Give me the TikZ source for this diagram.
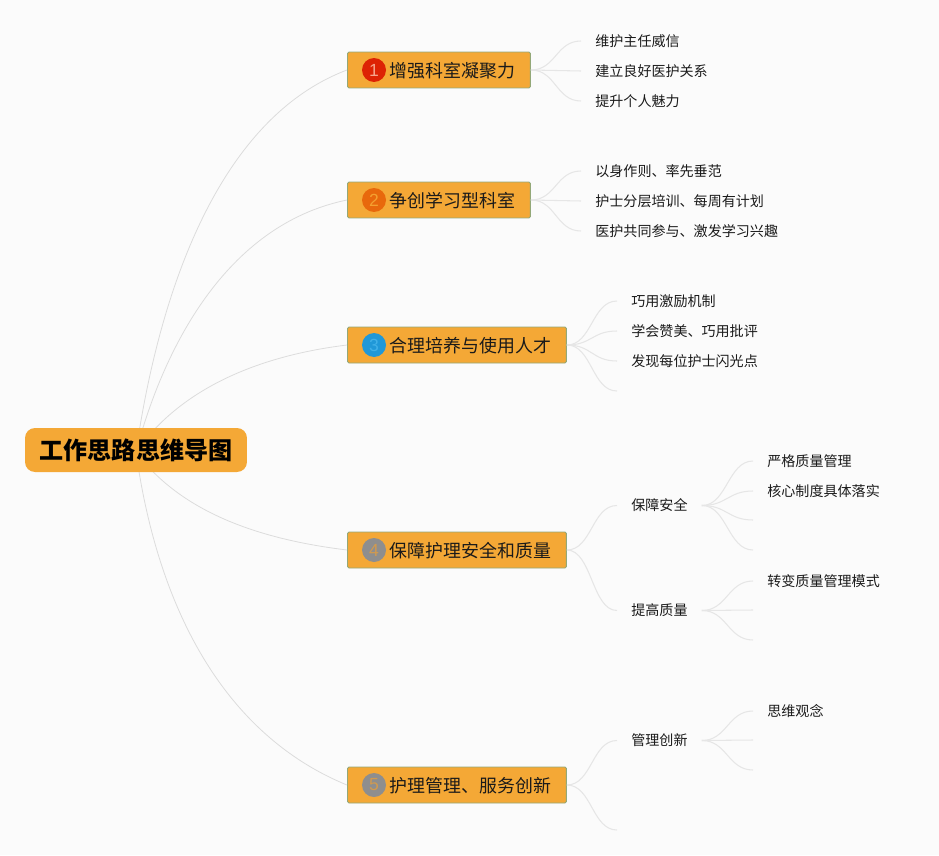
\documentclass[tikz,border=0pt]{standalone}
\usepackage{fontspec}
\usepackage{xcolor}
\usetikzlibrary{calc}
\setmainfont{Liberation Sans}
\newfontfamily\cjk{Noto Sans CJK SC}
\definecolor{pagebg}{HTML}{FBFBFB}
\definecolor{boxfill}{HTML}{F4A836}
\definecolor{boxedge}{HTML}{93A878}
\definecolor{linkgray}{HTML}{E6E6E6}
\definecolor{rootgray}{HTML}{DCDCDC}
\definecolor{txtdark}{HTML}{1A1A1A}
\definecolor{badgeA}{HTML}{DD2204}
\definecolor{badgeB}{HTML}{E8680C}
\definecolor{badgeC}{HTML}{2098D8}
\definecolor{badgeD}{HTML}{8E8E8E}
\definecolor{digitA}{HTML}{F6A48C}
\definecolor{digitB}{HTML}{F4A030}
\definecolor{digitC}{HTML}{40B0E8}
\definecolor{digitD}{HTML}{D09A50}
\begin{document}
\begin{tikzpicture}[x=0.02cm, y=-0.02cm]
    % Styles
    \tikzstyle{rootbox} = [rectangle, rounded corners=2mm, fill=boxfill, minimum width=4.44cm, minimum height=0.88cm, align=center, font=\cjk\fontsize{13.7pt}{16pt}\selectfont\bfseries, text=black]
    \tikzstyle{topicbox} = [rectangle, rounded corners=0.3mm, draw=boxedge, line width=0.5pt, fill=boxfill, minimum height=0.72cm, anchor=west, inner sep=0pt]
    \tikzstyle{badge} = [circle, minimum size=0.48cm, inner sep=0pt, font=\fontsize{10pt}{12pt}\selectfont]
    \tikzstyle{topictitle} = [anchor=west, inner xsep=0.06cm, inner ysep=2pt, yshift=-0.6pt, font=\cjk\fontsize{10.2pt}{12pt}\selectfont, text=txtdark]
    \tikzstyle{leaf} = [anchor=west, inner xsep=0.28cm, inner ysep=2pt, font=\cjk\fontsize{8pt}{10pt}\selectfont, text=txtdark]
    \tikzstyle{rootlink} = [draw=rootgray, line width=0.45pt]
    \tikzstyle{branch} = [draw=linkgray, line width=0.6pt]

    \useasboundingbox[fill=pagebg] (0,0) rectangle (939,855);

    % Topics
    \node[topicbox, minimum width=3.66cm] (topicA) at (347,70) {};
    \node[topicbox, minimum width=3.66cm] (topicB) at (347,200) {};
    \node[topicbox, minimum width=4.38cm] (topicC) at (347,345) {};
    \node[topicbox, minimum width=4.38cm] (topicD) at (347,550) {};
    \node[topicbox, minimum width=4.38cm] (topicE) at (347,785) {};

    \node[badge, fill=badgeA, text=digitA] (badA) at (374,70) {1};
    \node[badge, fill=badgeB, text=digitB] (badB) at (374,200) {2};
    \node[badge, fill=badgeC, text=digitC] (badC) at (374,345) {3};
    \node[badge, fill=badgeD, text=digitD] (badD) at (374,550) {4};
    \node[badge, fill=badgeD, text=digitD] (badE) at (374,785) {5};

    \node[topictitle] (titleA) at (badA.east) {增强科室凝聚力};
    \node[topictitle] (titleB) at (badB.east) {争创学习型科室};
    \node[topictitle] (titleC) at (badC.east) {合理培养与使用人才};
    \node[topictitle] (titleD) at (badD.east) {保障护理安全和质量};
    \node[topictitle] (titleE) at (badE.east) {护理管理、服务创新};

    % Links from the root, drawn first so the root hides their start
    \coordinate (hub) at (136,452);
    \draw[rootlink] (hub) .. controls (158,300) and (215,120) .. (topicA.west);
    \draw[rootlink] (hub) .. controls (163,350) and (225,225) .. (topicB.west);
    \draw[rootlink] (hub) .. controls (183,385) and (265,355) .. (topicC.west);
    \draw[rootlink] (hub) .. controls (183,515) and (265,540) .. (topicD.west);
    \draw[rootlink] (hub) .. controls (158,610) and (225,735) .. (topicE.west);

    % Root
    \node[rootbox] (root) at (136,450) {\raisebox{-1pt}{工作思路思维导图}};

    % Leaves
    \node[leaf] (a1) at (581,41) {维护主任威信};
    \node[leaf] (a2) at (581,71) {建立良好医护关系};
    \node[leaf] (a3) at (581,101) {提升个人魅力};
    \node[leaf] (b1) at (581,171) {以身作则、率先垂范};
    \node[leaf] (b2) at (581,201) {护士分层培训、每周有计划};
    \node[leaf] (b3) at (581,231) {医护共同参与、激发学习兴趣};
    \node[leaf] (c1) at (617,301) {巧用激励机制};
    \node[leaf] (c2) at (617,331) {学会赞美、巧用批评};
    \node[leaf] (c3) at (617,361) {发现每位护士闪光点};
    \coordinate (c4) at (617,391);
    \node[leaf] (d1) at (617,505.5) {保障安全};
    \node[leaf] (d2) at (617,610.5) {提高质量};
    \node[leaf] (e1) at (617,740.5) {管理创新};
    \coordinate (e2) at (617,830);
    \node[leaf] (s1) at (753,461) {严格质量管理};
    \node[leaf] (s2) at (753,491) {核心制度具体落实};
    \coordinate (s3) at (753,520);
    \coordinate (s4) at (753,550);
    \node[leaf] (q1) at (753,581) {转变质量管理模式};
    \coordinate (q2) at (753,610);
    \coordinate (q3) at (753,640);
    \node[leaf] (m1) at (753,711) {思维观念};
    \coordinate (m2) at (753,740);
    \coordinate (m3) at (753,770);

    % Branches
    \foreach \a/\b in {topicA/a1, topicA/a2, topicA/a3, topicB/b1, topicB/b2, topicB/b3,
                       topicC/c1, topicC/c2, topicC/c3, topicC/c4, topicD/d1, topicD/d2,
                       topicE/e1, topicE/e2, d1/s1, d1/s2, d1/s3, d1/s4,
                       d2/q1, d2/q2, d2/q3, e1/m1, e1/m2, e1/m3} {
        \draw[branch] (\a.east) .. controls +(25,0) and ($(\b.west)+(-25,0)$) .. (\b.west);
    }
\end{tikzpicture}
\end{document}
